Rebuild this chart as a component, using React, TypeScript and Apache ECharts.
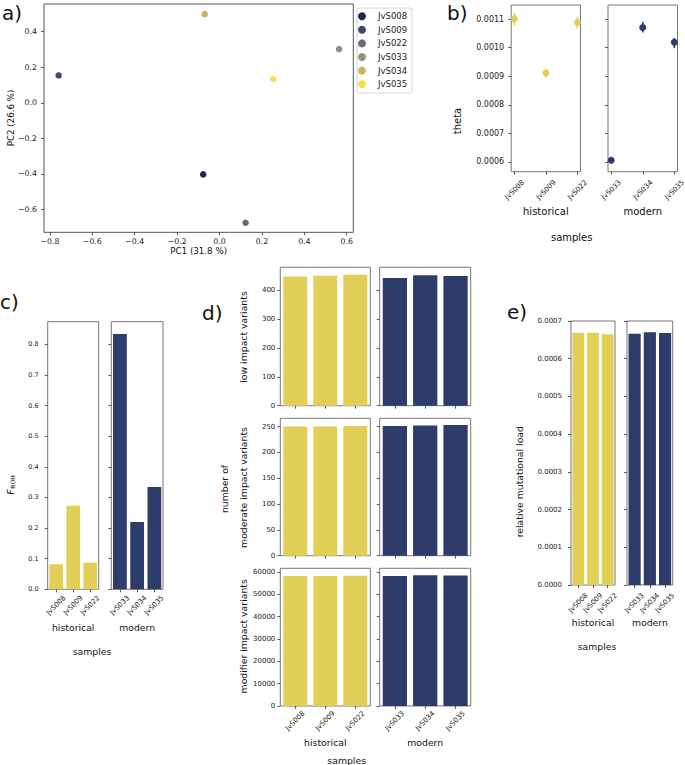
import React, { useEffect, useRef } from 'react';
import * as echarts from 'echarts';

// ---------- data ----------
const histSamples = ['JvS008', 'JvS009', 'JvS022'];
const modSamples = ['JvS033', 'JvS034', 'JvS035'];

const pcaSamples = ['JvS008', 'JvS009', 'JvS022', 'JvS033', 'JvS034', 'JvS035'];
const pc1 = [-0.077, -0.759, 0.123, 0.564, -0.070, 0.254];
const pc2 = [-0.403, 0.154, -0.675, 0.302, 0.499, 0.134];
const pcaColors = ['#1c2a50', '#3c4a74', '#6a6b70', '#94907a', '#c8b560', '#f4e04a'];
const pcaXTicks = [-0.8, -0.6, -0.4, -0.2, 0, 0.2, 0.4, 0.6];
const pcaYTicks = [-0.6, -0.4, -0.2, 0, 0.2, 0.4];

const thetaHist = [0.0011, 0.000911, 0.001088];
const thetaHistLo = [0.001078, 0.000895, 0.001066];
const thetaHistHi = [0.00112, 0.000926, 0.001108];
const thetaMod = [0.000606, 0.00107, 0.001019];
const thetaModLo = [0.000598, 0.001053, 0.000998];
const thetaModHi = [0.000613, 0.00109, 0.001034];
const thetaTicks = [0.0006, 0.0007, 0.0008, 0.0009, 0.001, 0.0011];

const frohHist = [0.082, 0.273, 0.087];
const frohMod = [0.834, 0.22, 0.334];
const frohTicks = [0, 0.1, 0.2, 0.3, 0.4, 0.5, 0.6, 0.7, 0.8];

const lowHist = [448, 451, 454];
const lowMod = [443, 452, 450];
const lowTicks = [0, 100, 200, 300, 400];

const moderateHist = [250, 250, 251];
const moderateMod = [251, 252, 253];
const moderateTicks = [0, 50, 100, 150, 200, 250];

const modifierHist = [58200, 58250, 58300];
const modifierMod = [58250, 58550, 58400];
const modifierTicks = [0, 10000, 20000, 30000, 40000, 50000, 60000];

const loadHist = [0.000669, 0.000669, 0.000665];
const loadMod = [0.000666, 0.00067, 0.000668];
const loadTicks = [0, 0.0001, 0.0002, 0.0003, 0.0004, 0.0005, 0.0006, 0.0007];

// ---------- styles ----------
const FONT = "'DejaVu Sans', sans-serif";
const YEL = '#e2cf57';
const NAVY = '#2d3c6a';
const TXT = '#222';

const grid = (left: number, top: number, width: number, height: number, color = '#777') => ({
  left, top, width, height, show: true, borderColor: color, borderWidth: 1,
  backgroundColor: 'transparent', containLabel: false, outerBoundsMode: 'none',
});

const tick = (extra: any = {}) => ({ show: true, length: 3, lineStyle: { color: '#333', width: 0.8 }, ...extra });
const noLine = { show: false, onZero: false };

const catX = (g: number, cats: string[], showLabels: boolean, fontSize: number, margin: number, name = '', nameGap = 30) => ({
  type: 'category', gridIndex: g, data: cats, boundaryGap: true,
  axisLine: noLine,
  axisTick: tick({ alignWithLabel: true, interval: 0 }),
  axisLabel: showLabels
    ? { show: true, interval: 0, rotate: 45, align: 'center', verticalAlign: 'middle', margin, fontSize, fontFamily: FONT, color: TXT }
    : { show: false },
  splitLine: { show: false },
  name, nameLocation: 'middle', nameGap,
  nameTextStyle: { fontSize: 9.3, fontFamily: FONT, color: '#111', verticalAlign: 'middle' },
});

const valY = (g: number, min: number, max: number, ticks: number[], fmt: (v: number) => string, showLabels: boolean, fontSize: number, margin: number) => ({
  type: 'value', gridIndex: g, min, max,
  axisLine: noLine,
  axisTick: tick({ customValues: ticks }),
  axisLabel: showLabels
    ? { show: true, customValues: ticks, formatter: fmt, fontSize, fontFamily: FONT, color: TXT, margin }
    : { show: false },
  splitLine: { show: false },
});

const txt = (x: number, y: number, text: string, fontSize: number, rotation = 0, extra: any = {}) => ({
  type: 'text', x, y, rotation, silent: true,
  style: { text, fontSize, fontFamily: FONT, fill: '#111', align: 'center', verticalAlign: 'middle', ...extra },
});

const pcaFmt = (v: number) => (v < -1e-9 ? '\u2212' : '') + Math.abs(v).toFixed(1);
const f4 = (v: number) => v.toFixed(4);
const f1 = (v: number) => v.toFixed(1);
const fInt = (v: number) => String(Math.round(v));

const bar = (g: number, data: number[], color: string) => ({
  type: 'bar', xAxisIndex: g, yAxisIndex: g, data, barCategoryGap: '20%',
  itemStyle: { color, opacity: 1 }, silent: true,
});

const errSeries = (g: number, lo: number[], hi: number[], color: string) => ({
  type: 'custom', xAxisIndex: g, yAxisIndex: g, silent: true, z: 2,
  data: lo.map((l, i) => [i, l, hi[i]]),
  encode: { x: 0, y: [1, 2] },
  renderItem: (params: any, api: any) => {
    const p1 = api.coord([api.value(0), api.value(1)]);
    const p2 = api.coord([api.value(0), api.value(2)]);
    return { type: 'line', shape: { x1: p1[0], y1: p1[1], x2: p2[0], y2: p2[1] }, style: { stroke: color, lineWidth: 1.6 } };
  },
});

const pointSeries = (g: number, vals: number[], color: string) => ({
  type: 'scatter', xAxisIndex: g, yAxisIndex: g, silent: true, z: 3,
  data: vals.map((v, i) => [i, v]), symbolSize: 7, itemStyle: { color, opacity: 1 },
});

const ptX = (g: number, cats: string[]) => ({
  type: 'value', gridIndex: g, min: -0.1, max: 2.1,
  axisLine: noLine,
  axisTick: tick({ customValues: [0, 1, 2] }),
  axisLabel: {
    show: true, customValues: [0, 1, 2], formatter: (v: number) => cats[Math.round(v)],
    rotate: 45, align: 'center', verticalAlign: 'middle', margin: 18, fontSize: 7.1, fontFamily: FONT, color: TXT,
  },
  splitLine: { show: false },
  name: g === 1 ? 'historical' : 'modern', nameLocation: 'middle', nameGap: 40,
  nameTextStyle: { fontSize: 10, fontFamily: FONT, color: '#111', verticalAlign: 'middle' },
});

function buildOption() {
  const grids = [
    grid(44, 4, 309.3, 228.3, '#555'), // 0 a
    grid(511.2, 5, 69.3, 166.7), // 1 bL
    grid(608, 5, 69.5, 166.7), // 2 bR
    grid(47.7, 321.7, 51, 267.6), // 3 cL
    grid(111.3, 321.7, 51.7, 267.6), // 4 cR
    grid(280.3, 267.3, 90, 138.4), // 5 dTL
    grid(379.7, 267.3, 91, 138.4), // 6 dTR
    grid(280.3, 418.3, 90, 137.4), // 7 dML
    grid(379.7, 418.3, 91, 137.4), // 8 dMR
    grid(280.3, 568.3, 90, 137.7), // 9 dBL
    grid(379.7, 568.3, 91, 137.7), // 10 dBR
    grid(571, 321, 44, 264), // 11 eL
    grid(627, 321, 45.7, 264), // 12 eR
  ];

  const xAxis: any[] = [
    {
      type: 'value', gridIndex: 0, min: -0.828, max: 0.631,
      axisLine: noLine, axisTick: tick({ customValues: pcaXTicks }),
      axisLabel: { customValues: pcaXTicks, formatter: pcaFmt, fontSize: 7.8, fontFamily: FONT, color: TXT, margin: 5 },
      splitLine: { show: false },
      name: 'PC1 (31.8 %)', nameLocation: 'middle', nameGap: 18,
      nameTextStyle: { fontSize: 8.7, fontFamily: FONT, color: '#111', verticalAlign: 'middle' },
    },
    ptX(1, histSamples),
    ptX(2, modSamples),
    catX(3, histSamples, true, 7, 16, 'historical', 38),
    catX(4, modSamples, true, 7, 16, 'modern', 38),
    catX(5, histSamples, false, 7, 15),
    catX(6, modSamples, false, 7, 15),
    catX(7, histSamples, false, 7, 15),
    catX(8, modSamples, false, 7, 15),
    catX(9, histSamples, true, 7, 15, 'historical', 36),
    catX(10, modSamples, true, 7, 15, 'modern', 36),
    catX(11, histSamples, true, 7, 18, 'historical', 37),
    catX(12, modSamples, true, 7, 18, 'modern', 37),
  ];

  const yAxis: any[] = [
    valY(0, -0.729, 0.556, pcaYTicks, pcaFmt, true, 7.8, 7),
    valY(1, 0.000566, 0.001149, thetaTicks, f4, true, 8, 7),
    valY(2, 0.000566, 0.001149, thetaTicks, f4, false, 8, 7),
    valY(3, 0, 0.874, frohTicks, f1, true, 6.5, 9),
    valY(4, 0, 0.874, frohTicks, f1, false, 6.5, 9),
    valY(5, 0, 480, lowTicks, fInt, true, 7, 5),
    valY(6, 0, 480, lowTicks, fInt, false, 7, 5),
    valY(7, 0, 266, moderateTicks, fInt, true, 7, 5),
    valY(8, 0, 266, moderateTicks, fInt, false, 7, 5),
    valY(9, 0, 61650, modifierTicks, fInt, true, 7, 5),
    valY(10, 0, 61650, modifierTicks, fInt, false, 7, 5),
    valY(11, 0, 0.0007, loadTicks, f4, true, 7, 9),
    valY(12, 0, 0.0007, loadTicks, f4, false, 7, 9),
  ];

  const series: any[] = [];
  pcaSamples.forEach((s, i) => {
    series.push({
      type: 'scatter', name: s, xAxisIndex: 0, yAxisIndex: 0, silent: true,
      data: [[pc1[i], pc2[i]]], symbolSize: 6.5, itemStyle: { color: pcaColors[i], opacity: 1 },
    });
  });
  series.push(errSeries(1, thetaHistLo, thetaHistHi, YEL));
  series.push(pointSeries(1, thetaHist, YEL));
  series.push(errSeries(2, thetaModLo, thetaModHi, NAVY));
  series.push(pointSeries(2, thetaMod, NAVY));
  series.push(bar(3, frohHist, YEL), bar(4, frohMod, NAVY));
  series.push(bar(5, lowHist, YEL), bar(6, lowMod, NAVY));
  series.push(bar(7, moderateHist, YEL), bar(8, moderateMod, NAVY));
  series.push(bar(9, modifierHist, YEL), bar(10, modifierMod, NAVY));
  series.push(bar(11, loadHist, YEL), bar(12, loadMod, NAVY));

  const graphic: any[] = [
    txt(2, 13, 'a)', 20, 0, { align: 'left' }),
    txt(447, 13, 'b)', 20, 0, { align: 'left' }),
    txt(0, 302, 'c)', 20, 0, { align: 'left' }),
    txt(202, 313, 'd)', 20, 0, { align: 'left' }),
    txt(507, 312, 'e)', 20, 0, { align: 'left' }),
    txt(11, 118, 'PC2 (26.6 %)', 8.7, Math.PI / 2),
    txt(457.7, 121, 'theta', 10, Math.PI / 2),
    txt(571.7, 237.3, 'samples', 10),
    txt(10, 492, 'F', 9.5, Math.PI / 2, { fontStyle: 'italic' }),
    txt(12.8, 482, 'ROH', 6, Math.PI / 2),
    txt(92, 651, 'samples', 9.3),
    txt(243, 337, 'low impact variants', 9.3, Math.PI / 2),
    txt(224, 489, 'number of', 9.3, Math.PI / 2),
    txt(243, 487.5, 'moderate impact variants', 9.3, Math.PI / 2),
    txt(243, 636.3, 'modifier impact variants', 9.3, Math.PI / 2),
    txt(346.7, 760, 'samples', 9.3),
    txt(519.7, 481.7, 'relative mutational load', 9.3, Math.PI / 2),
    txt(597, 646, 'samples', 9.3),
  ];

  return {
    animation: false,
    backgroundColor: '#ffffff',
    textStyle: { fontFamily: FONT },
    grid: grids,
    xAxis,
    yAxis,
    series,
    graphic,
    legend: {
      data: pcaSamples,
      orient: 'vertical',
      left: 357,
      top: 8,
      padding: [3.7, 4.8, 4.3, 1],
      itemGap: 4.6,
      itemWidth: 22,
      itemHeight: 8,
      icon: 'circle',
      borderColor: '#cccccc',
      borderWidth: 0.8,
      borderRadius: 2,
      selectedMode: false,
      textStyle: { fontSize: 8.5, fontFamily: FONT, color: TXT, lineHeight: 8, padding: [0, 0, 0, 0] },
    },
  };
}

export default function App() {
  const ref = useRef<HTMLDivElement>(null);
  useEffect(() => {
    if (!ref.current) return;
    const chart = echarts.init(ref.current, null, { renderer: 'svg' });
    chart.setOption(buildOption() as any);
    return () => chart.dispose();
  }, []);
  return (
    <div
      ref={ref}
      style={{ position: 'absolute', left: 0, top: 0, width: 685, height: 765, background: '#fff' }}
    />
  );
}
